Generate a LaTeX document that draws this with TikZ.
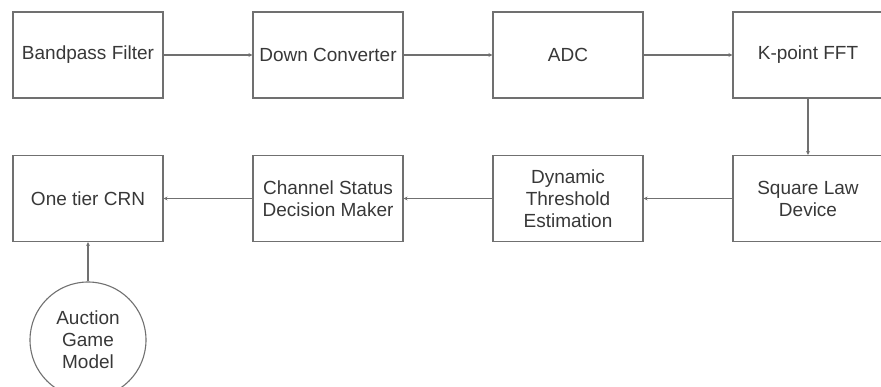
\documentclass[tikz,border=0pt]{standalone}
\usepackage{fontspec}
\setmainfont{Liberation Sans}
\usetikzlibrary{arrows.meta}
\definecolor{linegray}{HTML}{707070}
\definecolor{textgray}{HTML}{383838}
\begin{document}
\begin{tikzpicture}[x=1pt,y=-1pt,
  blk/.style={draw=linegray, line width=1.1pt, minimum width=150pt, minimum height=86pt, inner sep=0pt, align=center, text=textgray, font=\fontsize{19}{22}\selectfont},
  circ/.style={draw=linegray, line width=1.1pt, circle, minimum size=116pt, inner sep=0pt, align=center, text=textgray, font=\fontsize{19}{22}\selectfont},
  conn/.style={draw=linegray, line width=1.1pt, -{Stealth[length=4pt,width=4pt]}}]
\useasboundingbox (0,0) rectangle (881,387);
\clip (0,0) rectangle (881,387);
\node[blk] (bpf) at (88,55) {Bandpass Filter};
\node[blk] (dc) at (328,55) {Down Converter};
\node[blk] (adc) at (568,55) {ADC};
\node[blk] (fft) at (808,55) {K-point FFT};
\node[blk] (sld) at (808,198.5) {Square Law\\Device};
\node[blk] (dte) at (568,198.5) {Dynamic\\Threshold\\Estimation};
\node[blk] (csd) at (328,198.5) {Channel Status\\Decision Maker};
\node[blk] (crn) at (88,198.5) {One tier CRN};
\node[circ] (agm) at (88,340) {Auction\\Game\\Model};
\draw[conn] (bpf) -- (dc);
\draw[conn] (dc) -- (adc);
\draw[conn] (adc) -- (fft);
\draw[conn] (fft) -- (sld);
\draw[conn] (sld) -- (dte);
\draw[conn] (dte) -- (csd);
\draw[conn] (csd) -- (crn);
\draw[conn] (agm) -- (crn);
\end{tikzpicture}
\end{document}
